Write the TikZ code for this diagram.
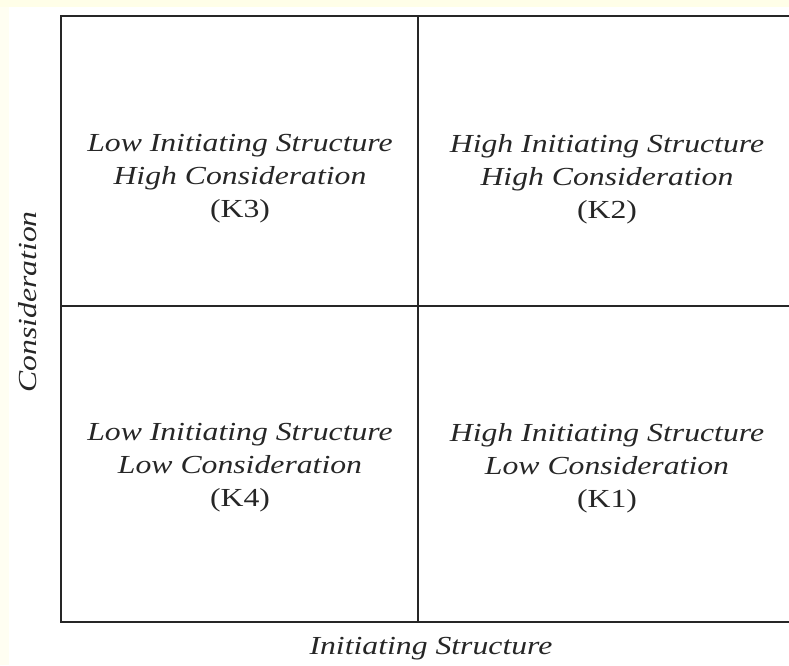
\documentclass[tikz,border=0pt]{standalone}
\usepackage{fontspec}
\setmainfont{Liberation Serif}[FakeStretch=1.22]
\usetikzlibrary{positioning}

\begin{document}
\begin{tikzpicture}[x=1pt,y=-1pt,
  grid/.style={line width=1.6pt,black!85},
  quad/.style={align=center,text=black!85,font=\fontsize{26}{33}\selectfont\itshape},
  axis/.style={text=black!85,font=\fontsize{26}{30}\selectfont\itshape}]
\useasboundingbox (0,0) rectangle (789,665);
\fill[yellow!9] (0,0) rectangle (789,7);
\fill[yellow!5] (0,7) rectangle (9,665);
% corners of the grid
\coordinate (tl) at (61,16);
\coordinate (tm) at (418,16);
\coordinate (tr) at (800,16);
\coordinate (ml) at (61,306);
\coordinate (mr) at (800,306);
\coordinate (bl) at (61,622);
\coordinate (bm) at (418,622);
\coordinate (br) at (800,622);
\draw[grid] (tr) -- (tl) -- (bl) -- (br);
\draw[grid] (tm) -- (bm);
\draw[grid] (ml) -- (mr);
% quadrants
\node[quad] (k3) at (240,179) {Low Initiating Structure\\High Consideration\\\upshape(K3)};
\node[quad] (k2) at (607,179) {High Initiating Structure\\High Consideration\\\upshape(K2)};
\node[quad] (k4) at (240,468) {Low Initiating Structure\\Low Consideration\\\upshape(K4)};
\node[quad] (k1) at (607,468) {High Initiating Structure\\Low Consideration\\\upshape(K1)};
% axis labels
\node[axis,rotate=90] (cons) at (28,302) {Consideration};
\node[axis] (init) at (431,649) {Initiating Structure};
\end{tikzpicture}
\end{document}
